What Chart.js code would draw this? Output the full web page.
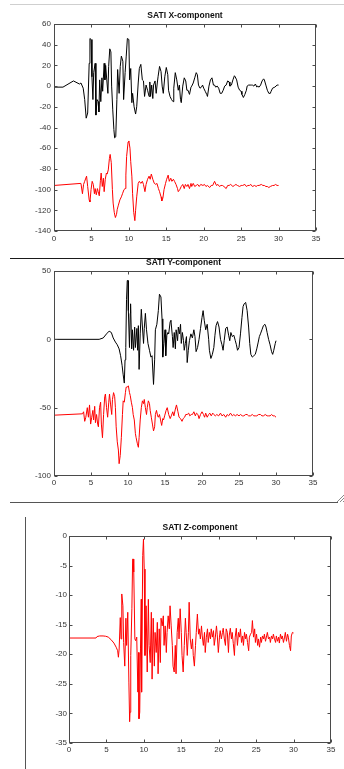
<!DOCTYPE html>
<html>
<head>
<meta charset="utf-8">
<title>SATI components</title>
<script src="https://cdn.jsdelivr.net/npm/chart.js"></script>
<style>
  body { margin: 0; background: #fff; width: 344px; height: 769px; position: relative; overflow: hidden; }
  .panel { position: absolute; left: 0; }
  .rule { position: absolute; }
</style>
</head>
<body>

<div class="rule" style="left:10px;top:4px;width:334px;height:1px;background:#cfcfcf"></div>
<canvas class="panel" id="chartX" width="344" height="250" style="top:0"></canvas>

<canvas class="panel" id="chartY" width="344" height="245" style="top:255px"></canvas>
<div class="rule" style="left:10px;top:258px;width:334px;height:1px;background:#1a1a1a"></div>
<div class="rule" style="left:10px;top:502px;width:328px;height:1px;background:#555"></div>
<svg class="rule" style="left:335px;top:493px" width="9" height="10">
  <path d="M2 9 L9 2 M5 9 L9 5 M8 9 L9 8" stroke="#888" stroke-width="1" fill="none"/>
</svg>

<div class="rule" style="left:25px;top:517px;width:1px;height:252px;background:#555"></div>
<canvas class="panel" id="chartZ" width="344" height="259" style="top:510px"></canvas>

<script>
// tick positions
const timeTicks = [0, 5, 10, 15, 20, 25, 30, 35];
const xCompTicks = [-140, -120, -100, -80, -60, -40, -20, 0, 20, 40, 60];
const yCompTicks = [-100, -50, 0, 50];
const zCompTicks = [-35, -30, -25, -20, -15, -10, -5, 0];

// X-component, upper trace [time s, amplitude]
const xUpper = [[0,-1],[1.2,-1],[2.6,5],[3.4,2],[3.6,3],[3.9,-2],[4.1,-13],[4.3,-31],[4.5,-26],[4.7,22],
  [4.8,46],[4.95,45],[5.07,9],[5.2,-13],[5.3,13],[5.5,22],[5.6,-28],[5.75,-13],[5.9,-15],[6.0,-25],
  [6.1,6],[6.25,-15],[6.4,8],[6.5,-5],[6.7,22],[6.8,6],[6.9,20],[7.05,6],[7.2,-7],[7.3,19],
  [7.45,36],[7.6,33],[7.7,0],[7.85,-23],[8.0,-42],[8.1,-50],[8.25,-49],[8.4,-13],[8.5,16],[8.7,-7],
  [8.85,19],[9.0,29],[9.2,24],[9.3,-13],[9.5,13],[9.65,29],[9.8,46],[10.0,45],[10.1,6],[10.25,17],
  [10.4,-16],[10.5,-7],[10.7,-20],[10.9,-27],[11.05,-20],[11.25,3],[11.4,17],[11.6,21],[11.8,6],[11.95,5],
  [12.1,-10],[12.3,1],[12.5,-4],[12.7,-10],[12.8,4],[12.9,-10],[13.05,1],[13.2,-12],[13.3,1],[13.5,5],
  [13.65,-7],[13.8,3],[13.9,9],[14.1,19],[14.3,14],[14.45,0],[14.6,-7],[14.8,9],[15.0,18],[15.2,11],
  [15.3,-4],[15.5,-10],[15.7,-13],[15.9,-15],[16.0,-2],[16.2,13],[16.4,6],[16.6,-4],[16.75,1],[16.9,-13],
  [17.0,-16],[17.2,0],[17.4,8],[17.6,5],[17.75,-4],[17.9,-4],[18.1,-8],[18.3,-1],[18.4,0],[18.6,3],
  [18.8,8],[19.0,13],[19.15,11],[19.3,1],[19.5,-2],[19.7,-1],[19.85,1],[20.0,-2],[20.2,-5],[20.4,-8],
  [20.5,-10],[20.7,0],[20.9,6],[21.1,8],[21.3,1],[21.45,1],[21.6,-1],[21.8,0],[22.0,-2],[22.2,-7],
  [22.4,-7],[22.6,-4],[22.8,0],[23.0,1],[23.2,5],[23.4,4],[23.5,0],[23.7,1],[23.9,6],[24.1,10],
  [24.2,9],[24.4,6],[24.6,-1],[24.8,-4],[25.0,-5],[25.1,-8],[25.3,-11],[25.5,-8],[25.7,-4],[25.8,0],
  [26.0,1],[26.2,1],[26.4,1],[26.5,1],[26.7,0],[26.9,2],[27.1,-1],[27.2,0],[27.4,-1],[27.6,1],
  [27.8,5],[28.0,7],[28.1,6],[28.3,1],[28.5,-4],[28.7,-7],[28.9,-7],[29.0,-5],[29.2,-2],[29.5,-1],
  [29.8,1],[30.0,1]];

// X-component, lower trace
const xLower = [[0,-96],[3.6,-94],[3.8,-104],[3.95,-95],[4.1,-92],[4.35,-87],[4.5,-97],[4.7,-110],[4.8,-112],[4.95,-100],
  [5.1,-92],[5.25,-95],[5.4,-104],[5.5,-99],[5.65,-105],[5.8,-99],[5.9,-102],[6.05,-106],[6.2,-91],[6.3,-84],
  [6.45,-97],[6.6,-89],[6.7,-102],[6.85,-90],[7.0,-84],[7.1,-85],[7.25,-81],[7.4,-70],[7.5,-66],[7.65,-74],
  [7.8,-100],[7.9,-113],[8.05,-122],[8.2,-127],[8.35,-124],[8.45,-119],[8.6,-115],[8.8,-110],[9.0,-107],[9.15,-104],
  [9.35,-100],[9.5,-99],[9.6,-86],[9.7,-68],[9.9,-54],[10.0,-53],[10.15,-60],[10.25,-73],[10.4,-87],[10.5,-104],
  [10.65,-122],[10.8,-130],[10.9,-120],[11.05,-107],[11.25,-94],[11.4,-92],[11.6,-94],[11.8,-92],[11.95,-95],[12.15,-102],
  [12.3,-95],[12.5,-90],[12.7,-87],[12.85,-90],[13.0,-85],[13.2,-90],[13.4,-94],[13.6,-95],[13.75,-94],[13.95,-99],
  [14.1,-102],[14.3,-107],[14.4,-111],[14.55,-108],[14.7,-100],[14.9,-94],[15.05,-90],[15.25,-86],[15.4,-92],[15.6,-89],
  [15.75,-92],[15.95,-90],[16.1,-92],[16.3,-95],[16.5,-99],[16.6,-102],[16.8,-100],[17.0,-97],[17.2,-95],[17.4,-99],
  [17.55,-95],[17.75,-97],[17.9,-95],[18.1,-99],[18.3,-94],[18.4,-97],[18.6,-94],[18.8,-97],[19.0,-96],[19.2,-95],
  [19.4,-97],[19.6,-95],[19.9,-96],[20.1,-95],[20.3,-97],[20.5,-96],[20.8,-98],[21.0,-96],[21.2,-96],[21.45,-92],
  [21.7,-96],[21.9,-95],[22.1,-97],[22.3,-96],[22.5,-96],[22.7,-97],[23.0,-99],[23.2,-96],[23.4,-96],[23.6,-95],
  [23.9,-97],[24.1,-96],[24.3,-95],[24.5,-96],[24.8,-97],[25.0,-96],[25.2,-96],[25.5,-95],[25.7,-97],[25.9,-96],
  [26.1,-96],[26.3,-95],[26.5,-97],[26.8,-96],[27.0,-97],[27.2,-96],[27.4,-96],[27.7,-95],[27.9,-96],[28.1,-96],
  [28.3,-97],[28.5,-97],[28.7,-98],[28.9,-97],[29.2,-96],[29.4,-96],[29.6,-95],[29.8,-96],[30.0,-96]];

// Y-component, upper trace
const yUpper = [[0,0],[6.1,0],[6.65,1],[7.1,4],[7.45,6],[7.75,5],[8.0,1],[8.3,-2],[8.55,-4],[8.8,-7],
  [9.0,-12],[9.2,-19],[9.35,-26],[9.5,-32],[9.6,-15],[9.7,-6],[9.8,29],[9.9,43],[10.0,43],[10.05,21],
  [10.2,-6],[10.3,19],[10.35,26],[10.5,-7],[10.6,7],[10.75,-8],[10.9,9],[11.0,-6],[11.2,8],[11.3,-8],
  [11.4,10],[11.5,-22],[11.65,4],[11.8,22],[11.95,9],[12.1,-3],[12.2,8],[12.35,19],[12.5,7],[12.7,-3],
  [12.9,-8],[13.1,-13],[13.25,-12],[13.45,-33],[13.6,-15],[13.7,7],[13.9,11],[14.1,21],[14.25,33],[14.45,31],
  [14.6,15],[14.7,-13],[14.85,-3],[15.0,7],[15.1,-12],[15.25,3],[15.4,5],[15.5,4],[15.7,13],[15.8,14],
  [16.0,2],[16.1,-6],[16.25,5],[16.4,-7],[16.5,7],[16.7,-1],[16.8,9],[16.95,4],[17.1,11],[17.2,-3],
  [17.35,5],[17.5,-1],[17.6,-8],[17.75,-3],[17.9,2],[18.0,-17],[18.15,-8],[18.3,-1],[18.5,4],[18.7,1],
  [18.9,7],[19.05,2],[19.2,-9],[19.4,-6],[19.6,0],[19.8,8],[20.0,16],[20.15,21],[20.3,14],[20.5,7],
  [20.7,11],[20.9,0],[21.0,-8],[21.2,-14],[21.4,-11],[21.6,-6],[21.75,3],[21.9,10],[22.1,13],[22.3,9],
  [22.5,0],[22.7,-4],[22.85,-8],[23.0,-1],[23.2,8],[23.4,9],[23.6,3],[23.75,-1],[23.9,5],[24.1,2],
  [24.3,3],[24.5,-1],[24.65,-4],[24.8,-8],[25.0,-6],[25.2,4],[25.4,16],[25.55,24],[25.7,26],[25.9,27],
  [26.1,21],[26.3,9],[26.45,-3],[26.6,-11],[26.8,-13],[27.0,-12],[27.2,-11],[27.4,-7],[27.6,-2],[27.75,2],
  [27.9,4],[28.1,7],[28.3,10],[28.5,11],[28.65,9],[28.8,5],[29.0,0],[29.2,-4],[29.4,-9],[29.55,-11],
  [29.7,-8],[29.9,-3],[30.0,-1]];

// Y-component, lower trace
const yLower = [[0,-55.5],[3.85,-54.5],[4.0,-53],[4.15,-60],[4.3,-57],[4.5,-50],[4.65,-57],[4.8,-48],[4.95,-62],[5.1,-57],
  [5.25,-52],[5.35,-59],[5.5,-49],[5.6,-61],[5.75,-55],[5.9,-62],[6.0,-64],[6.15,-50],[6.3,-46],[6.4,-62],
  [6.55,-72],[6.7,-55],[6.85,-42],[6.95,-40],[7.1,-50],[7.25,-57],[7.4,-46],[7.5,-40],[7.65,-48],[7.8,-55],
  [7.9,-44],[8.05,-39],[8.2,-42],[8.3,-50],[8.4,-64],[8.55,-75],[8.7,-81],[8.8,-91],[8.95,-85],[9.1,-72],
  [9.25,-55],[9.35,-45],[9.5,-46],[9.65,-39],[9.75,-35],[9.9,-35],[10.05,-34],[10.2,-39],[10.3,-41],[10.45,-46],
  [10.6,-50],[10.7,-55],[10.85,-59],[11.0,-69],[11.1,-72],[11.25,-76],[11.4,-79],[11.5,-72],[11.65,-59],[11.8,-50],
  [11.95,-45],[12.1,-47],[12.2,-44],[12.35,-50],[12.5,-55],[12.6,-50],[12.75,-45],[12.9,-47],[13.0,-52],[13.15,-57],
  [13.3,-62],[13.45,-67],[13.6,-64],[13.7,-55],[13.85,-52],[14.0,-56],[14.1,-57],[14.25,-55],[14.4,-59],[14.55,-63],
  [14.7,-58],[14.8,-59],[14.95,-56],[15.15,-52],[15.3,-50],[15.5,-55],[15.7,-58],[15.85,-56],[16.05,-53],[16.2,-56],
  [16.4,-51],[16.55,-48],[16.75,-53],[16.9,-57],[17.1,-58],[17.3,-60],[17.45,-58],[17.65,-57],[17.8,-55],[18.0,-55],
  [18.2,-54],[18.35,-56],[18.55,-55],[18.7,-55],[18.9,-53],[19.1,-56],[19.25,-54],[19.45,-55],[19.6,-58],[19.8,-55],
  [20.0,-53],[20.2,-55],[20.35,-57],[20.5,-54],[20.7,-57],[20.9,-55],[21.05,-54],[21.25,-56],[21.45,-54],[21.6,-55],
  [21.8,-56],[22.0,-55],[22.25,-56],[22.5,-54],[22.7,-56],[22.95,-55],[23.2,-57],[23.4,-55],[23.6,-56],[23.85,-54],
  [24.1,-56],[24.3,-55],[24.5,-56],[24.75,-55],[25.0,-56],[25.2,-55],[25.45,-56],[25.65,-56],[25.9,-55],[26.1,-55],
  [26.3,-56],[26.55,-56],[26.8,-55],[27.0,-56],[27.2,-56],[27.4,-56],[27.65,-55],[27.9,-55],[28.1,-56],[28.3,-56],
  [28.55,-55],[28.8,-56],[29.0,-56],[29.2,-56],[29.4,-55],[29.6,-56],[29.8,-56],[30.0,-57]];

// Z-component, single trace
const zTrace = [[0,-17.25],[3.6,-17.25],[3.75,-17.0],[4.1,-16.9],[4.55,-16.9],[4.9,-16.95],[5.25,-17.1],[5.6,-17.5],[6.0,-18.1],[6.3,-18.8],
  [6.5,-19.4],[6.6,-20.5],[6.7,-19.1],[6.85,-13.8],[6.95,-17.4],[7.05,-9.8],[7.2,-11.8],[7.3,-18],[7.45,-22],[7.6,-13.9],
  [7.7,-18.5],[7.85,-12.9],[8.0,-24.7],[8.1,-31.4],[8.15,-29.8],[8.25,-20.2],[8.4,-12.3],[8.5,-3.9],[8.6,-3.9],[8.65,-6.1],
  [8.8,-17.4],[8.9,-17.7],[9.05,-17.1],[9.2,-26.4],[9.3,-19.7],[9.35,-30.9],[9.45,-29.8],[9.55,-19.1],[9.65,-10.7],[9.7,-26.4],
  [9.85,-3.3],[9.95,-0.5],[10.05,-5.6],[10.15,-20.2],[10.3,-11.8],[10.45,-23],[10.6,-10.7],[10.7,-18.5],[10.85,-21.4],[11.0,-12.9],
  [11.1,-24.2],[11.25,-13.9],[11.4,-22],[11.5,-16.3],[11.65,-19.7],[11.8,-14.6],[11.9,-23.3],[12.05,-15.7],[12.2,-21.4],[12.3,-13.9],
  [12.45,-15.2],[12.6,-13.5],[12.7,-18.5],[12.85,-15.2],[13.0,-19.7],[13.1,-16.3],[13.25,-13.5],[13.4,-15.7],[13.5,-11.8],[13.65,-15.2],
  [13.8,-18.5],[13.9,-22],[14.05,-23],[14.2,-18.5],[14.3,-23.3],[14.45,-16.3],[14.6,-13.9],[14.7,-17.4],[14.85,-12.3],[15.0,-16.3],
  [15.1,-20.2],[15.25,-23],[15.4,-18.5],[15.55,-13.9],[15.65,-16.3],[15.8,-20.2],[15.95,-16.3],[16.05,-11.2],[16.2,-17.4],[16.35,-19.1],
  [16.5,-17.4],[16.6,-20.2],[16.75,-22],[16.9,-18.5],[17.0,-16.3],[17.15,-13.2],[17.3,-16.6],[17.4,-15.7],[17.55,-17.4],[17.7,-15.2],
  [17.8,-16.9],[17.95,-18.5],[18.1,-16.3],[18.2,-19.7],[18.35,-17.1],[18.5,-15.7],[18.6,-18],[18.75,-16.3],[18.9,-17.4],[19.0,-15.7],
  [19.15,-17.1],[19.3,-16],[19.4,-18.5],[19.55,-17.1],[19.7,-15.2],[19.8,-16.6],[19.95,-19.7],[20.1,-17.1],[20.2,-16],[20.35,-17.4],
  [20.5,-16.3],[20.6,-15.6],[20.75,-17.4],[20.9,-18.5],[21.0,-15.7],[21.15,-16.3],[21.3,-19.7],[21.4,-16.9],[21.55,-15.6],[21.7,-17.4],
  [21.8,-16.3],[21.95,-18.2],[22.1,-20.2],[22.2,-17.1],[22.35,-15.6],[22.5,-18.5],[22.65,-16.3],[22.8,-17.1],[22.9,-15.7],[23.05,-18],
  [23.2,-16.9],[23.3,-18.5],[23.45,-16.3],[23.6,-17.4],[23.7,-16.6],[23.85,-18],[24.0,-19.4],[24.1,-17.1],[24.25,-16.6],[24.4,-16.3],
  [24.5,-14.3],[24.65,-17.1],[24.8,-15.7],[24.9,-18],[25.05,-16.6],[25.2,-18.5],[25.3,-17.4],[25.45,-18.8],[25.6,-17.1],[25.7,-18],
  [25.85,-16.9],[26.0,-17.4],[26.1,-16.6],[26.25,-17.8],[26.4,-16.9],[26.5,-16.3],[26.65,-17.4],[26.8,-17.1],[26.9,-18],[27.05,-16.9],
  [27.2,-17.4],[27.3,-16.6],[27.45,-17.4],[27.6,-18],[27.7,-16.9],[27.85,-17.8],[28.0,-17.1],[28.1,-18.1],[28.25,-16.6],[28.4,-17.4],
  [28.5,-16.9],[28.65,-18],[28.8,-17.1],[28.9,-16.3],[29.05,-17.8],[29.2,-16.6],[29.3,-17.1],[29.45,-18.5],[29.6,-19.4],[29.7,-16.9],
  [29.85,-16.3],[30.0,-16.4]];

const FONT = '"Liberation Sans", Arial, sans-serif';

// box frame with inward ticks on all four sides, plus the bold title
const matlabFrame = {
    id: 'matlabFrame',
    afterDatasetsDraw(chart, args, opts) {
        const { ctx, chartArea: a, scales } = chart;
        const L = Math.round(a.left) + 0.5, R = Math.round(a.right) - 0.5;
        const T = Math.round(a.top) + 0.5, B = Math.round(a.bottom) - 0.5;
        const len = 3;
        ctx.save();
        ctx.strokeStyle = '#4a4a4a';
        ctx.lineWidth = 1;
        ctx.strokeRect(L, T, R - L, B - T);
        ctx.beginPath();
        scales.x.ticks.forEach(t => {
            const px = Math.round(scales.x.getPixelForValue(t.value)) + 0.5;
            ctx.moveTo(px, B); ctx.lineTo(px, B - len);
            ctx.moveTo(px, T); ctx.lineTo(px, T + len);
        });
        scales.y.ticks.forEach(t => {
            const py = Math.round(scales.y.getPixelForValue(t.value)) + 0.5;
            ctx.moveTo(L, py); ctx.lineTo(L + len, py);
            ctx.moveTo(R, py); ctx.lineTo(R - len, py);
        });
        ctx.stroke();

        ctx.fillStyle = '#111';
        ctx.font = 'bold 8.5px ' + FONT;
        ctx.textAlign = 'center';
        ctx.textBaseline = 'middle';
        ctx.fillText(opts.title, (a.left + a.right) / 2, a.top - 8.5);
        ctx.restore();
    }
};

function toPoints(pairs) {
    return pairs.map(([x, y]) => ({ x: x, y: y }));
}

function makePanel(id, title, traces, yTicks, box) {
    const ctx = document.getElementById(id).getContext('2d');
    new Chart(ctx, {
        type: 'line',
        data: {
            datasets: traces.map(tr => ({
                data: toPoints(tr.data),
                borderColor: tr.color,
                borderWidth: 1,
                pointRadius: 0,
                tension: 0,
                fill: false
            }))
        },
        options: {
            responsive: false,
            animation: false,
            events: [],
            layout: { padding: { top: box.top, right: box.right, left: 0, bottom: 0 } },
            plugins: {
                legend: { display: false },
                tooltip: { enabled: false },
                matlabFrame: { title: title }
            },
            scales: {
                x: {
                    type: 'linear',
                    min: 0,
                    max: 35,
                    afterBuildTicks: s => { s.ticks = timeTicks.map(v => ({ value: v })); },
                    afterFit: s => { s.height = box.xHeight; },
                    grid: { display: false, drawTicks: false },
                    border: { display: false },
                    ticks: { padding: box.xPad, color: '#333', font: { family: FONT, size: 8 }, maxRotation: 0, autoSkip: false }
                },
                y: {
                    type: 'linear',
                    min: yTicks[0],
                    max: yTicks[yTicks.length - 1],
                    afterBuildTicks: s => { s.ticks = yTicks.map(v => ({ value: v })); },
                    afterFit: s => { s.width = box.yWidth; },
                    grid: { display: false, drawTicks: false },
                    border: { display: false },
                    ticks: { padding: box.yPad, color: '#333', font: { family: FONT, size: 8 }, autoSkip: false }
                }
            }
        },
        plugins: [matlabFrame]
    });
}

makePanel('chartX', 'SATI X-component',
    [{ data: xUpper, color: '#000000' }, { data: xLower, color: '#ff0000' }],
    xCompTicks, { top: 24, right: 28, xHeight: 19, yWidth: 54, xPad: 3, yPad: 3 });

makePanel('chartY', 'SATI Y-component',
    [{ data: yUpper, color: '#000000' }, { data: yLower, color: '#ff0000' }],
    yCompTicks, { top: 16, right: 31, xHeight: 24, yWidth: 54, xPad: 2, yPad: 3 });

makePanel('chartZ', 'SATI Z-component',
    [{ data: zTrace, color: '#ff0000' }],
    zCompTicks, { top: 26, right: 13, xHeight: 26, yWidth: 69, xPad: 2, yPad: 2 });
</script>
</body>
</html>
